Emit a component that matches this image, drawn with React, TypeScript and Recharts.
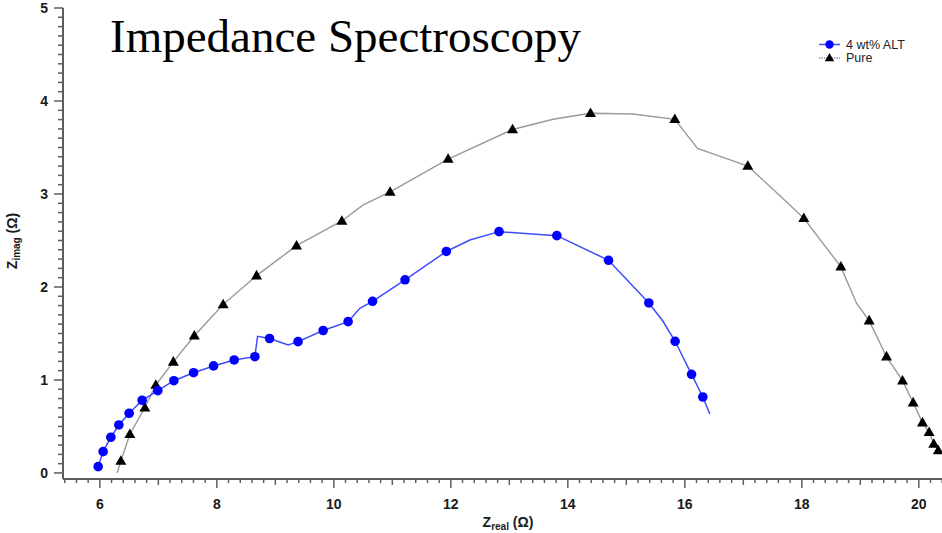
import { ScatterChart, Scatter, XAxis, YAxis } from "recharts";

// 4 wt% ALT (blue circles); marked = 0 means the line bends there without a symbol
const altZreal = [
  5.971, 6.056, 6.188, 6.325, 6.501, 6.723, 6.991, 7.265, 7.602, 7.944, 8.296, 8.65, 8.696,
  8.901, 9.219, 9.388, 9.817, 10.244, 10.444, 10.662, 11.217, 11.923, 12.325, 12.824, 13.812,
  14.696, 15.385, 15.624, 15.834, 16.115, 16.308, 16.427,
];
const altZimag = [
  0.068, 0.229, 0.384, 0.516, 0.642, 0.782, 0.885, 0.992, 1.078, 1.151, 1.215, 1.25, 1.47,
  1.446, 1.376, 1.412, 1.532, 1.627, 1.771, 1.846, 2.077, 2.382, 2.505, 2.595, 2.552, 2.287,
  1.828, 1.634, 1.416, 1.061, 0.817, 0.634,
];
const altMarked = [
  1, 1, 1, 1, 1, 1, 1, 1, 1, 1, 1, 1, 0, 1, 0, 1, 1, 1, 0, 1, 1, 1, 0, 1, 1, 1, 1, 0, 1, 1, 1, 0,
];

// Pure (black triangles)
const pureZreal = [
  6.296, 6.359, 6.513, 6.769, 6.957, 7.256, 7.615, 8.108, 8.679, 9.362, 10.137, 10.501, 10.962,
  11.954, 13.055, 13.749, 14.388, 15.116, 15.829, 16.217, 17.077, 17.595, 18.034, 18.667, 18.935,
  19.151, 19.448, 19.721, 19.903, 20.063, 20.176, 20.256, 20.333,
];
const pureZimag = [
  0, 0.129, 0.416, 0.702, 0.946, 1.194, 1.476, 1.812, 2.122, 2.444, 2.71, 2.882, 3.022, 3.376,
  3.694, 3.803, 3.868, 3.86, 3.803, 3.491, 3.301, 3.0, 2.739, 2.218, 1.825, 1.638, 1.251, 0.992,
  0.756, 0.541, 0.438, 0.312, 0.242,
];
const pureMarked = [
  0, 1, 1, 1, 1, 1, 1, 1, 1, 1, 1, 0, 1, 1, 1, 0, 1, 0, 1, 0, 1, 0, 1, 1, 0, 1, 1, 1, 1, 1, 1, 1, 1,
];

const xLabelTicks = [6, 8, 10, 12, 14, 16, 18, 20];
const yLabelTicks = [0, 1, 2, 3, 4, 5];

const xTicks: number[] = [];
for (let i = 27; i <= 105; i++) xTicks.push(+(i * 0.2).toFixed(1));
const yTicks: number[] = [];
for (let i = 0; i <= 50; i++) yTicks.push(+(i * 0.1).toFixed(1));

const altData = altZreal.map((x, i) => ({ x, y: altZimag[i], marked: altMarked[i] === 1 }));
const pureData = pureZreal.map((x, i) => ({ x, y: pureZimag[i], marked: pureMarked[i] === 1 }));

const AXIS = "#5e5e5e";
const FONT = "'Liberation Sans', Arial, sans-serif";

function XTick(props: any) {
  const { x, y, payload } = props;
  const v = payload.value;
  const isLabel = xLabelTicks.includes(v);
  const isMid = !isLabel && Math.abs(v - Math.round(v)) < 1e-6;
  const len = isLabel ? 9 : isMid ? 6 : 4;
  return (
    <g>
      <line x1={x} x2={x} y1={y} y2={y + len} stroke={AXIS} strokeWidth={1.5} />
      {isLabel && (
        <text x={x} y={y + 30} textAnchor="middle" fontFamily={FONT} fontWeight="bold" fontSize={14} fill="#1a1a1a">
          {v}
        </text>
      )}
    </g>
  );
}

function YTick(props: any) {
  const { x, y, payload } = props;
  const v = payload.value;
  const isLabel = yLabelTicks.includes(v);
  const len = isLabel ? 9 : 5;
  return (
    <g>
      <line x1={x - len} x2={x} y1={y} y2={y} stroke={AXIS} strokeWidth={1.5} />
      {isLabel && (
        <text x={x - 15} y={y + 5} textAnchor="end" fontFamily={FONT} fontWeight="bold" fontSize={14} fill="#1a1a1a">
          {v}
        </text>
      )}
    </g>
  );
}

function Dot(props: any) {
  const { cx, cy, payload } = props;
  if (!payload || !payload.marked) return <g />;
  return <circle cx={cx} cy={cy} r={4.8} fill="#0000ff" />;
}

function Tri(props: any) {
  const { cx, cy, payload } = props;
  if (!payload || !payload.marked) return <g />;
  return <path d={`M${cx},${cy - 5.8} L${cx + 5.5},${cy + 3.8} L${cx - 5.5},${cy + 3.8} Z`} fill="#000" />;
}

export default function App() {
  return (
    <div
      style={{
        position: "absolute",
        left: 0,
        top: 0,
        width: 942,
        height: 533,
        overflow: "hidden",
        background: "#fff",
      }}
    >
      <ScatterChart width={989} height={533} margin={{ top: 8, right: 0, bottom: 24, left: 0 }}>
        <XAxis
          type="number"
          dataKey="x"
          domain={[5.37, 21.2]}
          allowDataOverflow
          ticks={xTicks}
          interval={0}
          tickSize={0}
          tickMargin={0}
          tick={<XTick />}
          height={30}
          axisLine={{ stroke: AXIS, strokeWidth: 2 }}
        />
        <YAxis
          type="number"
          dataKey="y"
          domain={[-0.065, 5]}
          allowDataOverflow
          ticks={yTicks}
          interval={0}
          tickSize={0}
          tickMargin={0}
          tick={<YTick />}
          width={63}
          axisLine={{ stroke: AXIS, strokeWidth: 2 }}
        />
        <Scatter
          name="Pure"
          data={pureData}
          line={{ stroke: "#9a9a9a", strokeWidth: 1.4 }}
          shape={<Tri />}
          isAnimationActive={false}
        />
        <Scatter
          name="4 wt% ALT"
          data={altData}
          line={{ stroke: "#3d4cff", strokeWidth: 1.5 }}
          shape={<Dot />}
          isAnimationActive={false}
        />
      </ScatterChart>
      <svg
        width={942}
        height={533}
        style={{ position: "absolute", left: 0, top: 0, pointerEvents: "none" }}
      >
        <text x={110} y={52} fontFamily="'Liberation Serif', 'Times New Roman', serif" fontSize={47} fill="#000">
          Impedance Spectroscopy
        </text>
        <g fontFamily={FONT} fontSize={12.5} fill="#222">
          <line x1={819} x2={840} y1={44.5} y2={44.5} stroke="#3d4cff" strokeWidth={1.5} />
          <circle cx={829.5} cy={44.5} r={4.2} fill="#0000ff" />
          <text x={846} y={48.8}>4 wt% ALT</text>
          <line x1={819} x2={840} y1={58} y2={58} stroke="#999" strokeWidth={1.3} strokeDasharray="1.5 1" />
          <path d="M829.5,53 L834.2,61.2 L824.8,61.2 Z" fill="#000" />
          <text x={846} y={62.3}>Pure</text>
        </g>
        <text
          transform="translate(17,241) rotate(-90)"
          textAnchor="middle"
          fontFamily={FONT}
          fontWeight="bold"
          fontSize={14}
          fill="#1a1a1a"
        >
          Z<tspan fontSize={10} dy={3}>imag</tspan>
          <tspan dy={-3}> (Ω)</tspan>
        </text>
        <text x={508} y={527} textAnchor="middle" fontFamily={FONT} fontWeight="bold" fontSize={14} fill="#1a1a1a">
          Z<tspan fontSize={10} dy={3}>real</tspan>
          <tspan dy={-3}> (Ω)</tspan>
        </text>
      </svg>
    </div>
  );
}
